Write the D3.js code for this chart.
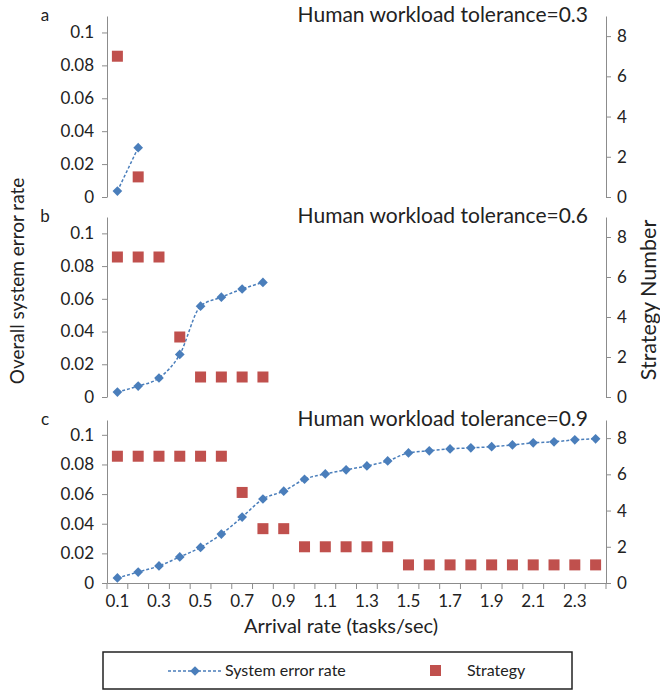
<!DOCTYPE html>
<html>
<meta charset="utf-8">
<style>
body { margin: 0; background: #fff; }
text { font-family: Lato, "Open Sans", sans-serif; fill: #222; }
.axis path, .axis line { stroke: #8c8c8c; }
.axis text { font-size: 17px; fill: #222; }
</style>
<body>
<svg width="660" height="691"></svg>
<script src="https://cdnjs.cloudflare.com/ajax/libs/d3/7.8.5/d3.min.js"></script>
<script>
var rates = ["0.1","0.2","0.3","0.4","0.5","0.6","0.7","0.8","0.9","1.0","1.1","1.2",
             "1.3","1.4","1.5","1.6","1.7","1.8","1.9","2.0","2.1","2.2","2.3","2.4"];
var xTickLabels = ["0.1","0.3","0.5","0.7","0.9","1.1","1.3","1.5","1.7","1.9","2.1","2.3"];
var leftTicks = [0, 0.02, 0.04, 0.06, 0.08, 0.1];
var rightTicks = [0, 2, 4, 6, 8];

var errorA = [0.0036, 0.030];
var strategyA = [7, 1];
var errorB = [0.003, 0.0067, 0.0116, 0.026, 0.0555, 0.061, 0.066, 0.070];
var strategyB = [7, 7, 7, 3, 1, 1, 1, 1];
var errorC = [0.0034, 0.0074, 0.0115, 0.0176, 0.024, 0.033, 0.0445, 0.0567, 0.062, 0.070,
              0.0736, 0.0764, 0.079, 0.0824, 0.0878, 0.0892, 0.0905, 0.0912, 0.092, 0.0932,
              0.0946, 0.0953, 0.0966, 0.0973];
var strategyC = [7, 7, 7, 7, 7, 7, 5, 3, 3, 2, 2, 2, 2, 2, 1, 1, 1, 1, 1, 1, 1, 1, 1, 1];

var panels = [
  {label: "a", title: "Human workload tolerance=0.3", err: errorA, strat: strategyA, top: 16, bottom: 197, xAxis: false},
  {label: "b", title: "Human workload tolerance=0.6", err: errorB, strat: strategyB, top: 217, bottom: 397, xAxis: false},
  {label: "c", title: "Human workload tolerance=0.9", err: errorC, strat: strategyC, top: 420, bottom: 583, xAxis: true}
];

var blue = "#4a7ebb", red = "#c0504d";
var svg = d3.select("svg");
var left = 107, right = 606;

var x = d3.scaleBand().domain(rates).range([left, right]);

panels.forEach(function(p) {
  var y = d3.scaleLinear().domain([0, 0.11]).range([p.bottom, p.top]);
  var y2 = d3.scaleLinear().domain([0, 9]).range([p.bottom, p.top]);
  var g = svg.append("g");

  g.append("g").attr("class", "axis")
    .attr("transform", "translate(" + left + ",0)")
    .call(d3.axisLeft(y).tickValues(leftTicks).tickSize(5).tickPadding(8).tickSizeOuter(0)
      .tickFormat(function(d) { return d3.format("")(d); }));

  g.append("g").attr("class", "axis")
    .attr("transform", "translate(" + right + ",0)")
    .call(d3.axisRight(y2).tickValues(rightTicks).tickSize(5).tickPadding(6).tickSizeOuter(0));

  if (p.xAxis) {
    var xa = g.append("g").attr("class", "axis")
      .attr("transform", "translate(0," + p.bottom + ")")
      .call(d3.axisBottom(x).tickSize(0).tickFormat(function(d) { return xTickLabels.indexOf(d) >= 0 ? d : ""; }));
    xa.selectAll("text").attr("dy", "1.25em");
    // Excel-style ticks between categories
    xa.selectAll(".sep").data(rates.concat(["end"])).enter().append("line")
      .attr("class", "sep")
      .attr("x1", function(d, i) { return left + i * x.bandwidth(); })
      .attr("x2", function(d, i) { return left + i * x.bandwidth(); })
      .attr("y1", 0).attr("y2", 6);
  }

  var pts = p.err.map(function(v, i) { return {r: rates[i], v: v}; });
  var spts = p.strat.map(function(v, i) { return {r: rates[i], v: v}; });

  g.append("path").datum(pts)
    .attr("fill", "none").attr("stroke", blue).attr("stroke-width", 1.5)
    .attr("stroke-dasharray", "3,2")
    .attr("d", d3.line().curve(d3.curveMonotoneX)
      .x(function(d) { return x(d.r) + x.bandwidth() / 2; })
      .y(function(d) { return y(d.v); }));

  g.selectAll(".dia").data(pts).enter().append("path")
    .attr("fill", blue)
    .attr("d", d3.symbol().type(d3.symbolDiamond2).size(60))
    .attr("transform", function(d) { return "translate(" + (x(d.r) + x.bandwidth() / 2) + "," + y(d.v) + ")"; });

  g.selectAll(".sq").data(spts).enter().append("rect")
    .attr("fill", red)
    .attr("width", 11).attr("height", 11)
    .attr("x", function(d) { return x(d.r) + x.bandwidth() / 2 - 5.5; })
    .attr("y", function(d) { return y2(d.v) - 5.5; });

  g.append("text").attr("x", 45).attr("y", p.top + 5)
    .attr("text-anchor", "middle").style("font-size", "17px").text(p.label);

  g.append("text").attr("x", 588).attr("y", p.top + 6)
    .attr("text-anchor", "end").style("font-size", "21px").text(p.title);
});

svg.append("text")
  .attr("transform", "translate(24,281) rotate(-90)")
  .attr("text-anchor", "middle").style("font-size", "19px")
  .text("Overall system error rate");

svg.append("text")
  .attr("transform", "translate(656,300) rotate(-90)")
  .attr("text-anchor", "middle").style("font-size", "21.5px")
  .text("Strategy Number");

svg.append("text")
  .attr("x", 341).attr("y", 633)
  .attr("text-anchor", "middle").style("font-size", "20px")
  .text("Arrival rate (tasks/sec)");

// legend
var lg = svg.append("g");
lg.append("rect").attr("x", 103).attr("y", 652).attr("width", 469).attr("height", 37)
  .attr("fill", "#fff").attr("stroke", "#222").attr("stroke-width", 1.5);
lg.append("line").attr("x1", 168).attr("x2", 222).attr("y1", 671).attr("y2", 671)
  .attr("stroke", blue).attr("stroke-width", 1.5).attr("stroke-dasharray", "3,2");
lg.append("path").attr("fill", blue)
  .attr("d", d3.symbol().type(d3.symbolDiamond2).size(60))
  .attr("transform", "translate(195,671)");
lg.append("text").attr("x", 225).attr("y", 676).style("font-size", "16px").text("System error rate");
lg.append("rect").attr("x", 430).attr("y", 665).attr("width", 11).attr("height", 11).attr("fill", red);
lg.append("text").attr("x", 467).attr("y", 676).style("font-size", "16px").text("Strategy");
</script>
</body>
</html>
